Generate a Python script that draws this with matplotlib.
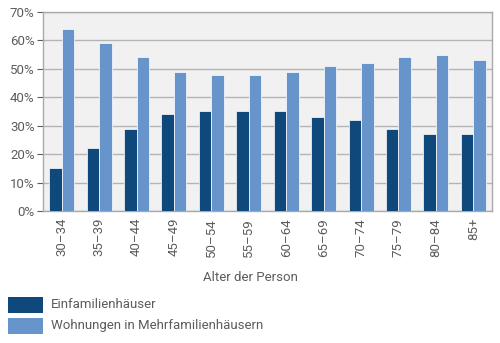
import matplotlib
matplotlib.use("Agg")
import matplotlib.pyplot as plt
import numpy as np
from matplotlib.patches import Rectangle

plt.rcParams['font.family'] = ['Roboto', 'DejaVu Sans']

categories = ["30–34", "35–39", "40–44", "45–49", "50–54", "55–59",
              "60–64", "65–69", "70–74", "75–79", "80–84", "85+"]
einfamilien = [15, 22, 29, 34, 35, 35, 35, 33, 32, 29, 27, 27]
wohnungen = [64, 59, 54, 49, 48, 48, 49, 51, 52, 54, 55, 53]
series_names = ["Einfamilienhäuser", "Wohnungen in Mehrfamilienhäusern"]
y_ticks = [0, 10, 20, 30, 40, 50, 60, 70]

dark = "#0f497c"
light = "#6694cb"
text_col = "#5c5c5c"

fig = plt.figure(figsize=(5.0, 3.43), dpi=100)
ax = fig.add_axes([0.086, 0.385, 0.898, 0.580])
ax.set_facecolor("#f1f1f1")

x = np.arange(len(categories))
w = 0.335
ax.bar(x - w / 2, einfamilien, w, color=dark, edgecolor="white", linewidth=0.5, zorder=3)
ax.bar(x + w / 2, wohnungen, w, color=light, edgecolor="white", linewidth=0.5, zorder=3)

ax.set_xlim(-0.5, len(categories) - 0.5)
ax.set_ylim(0, 70)
ax.set_yticks(y_ticks)
ax.set_yticklabels([f"{v}%" for v in y_ticks])
ax.yaxis.grid(True, color="#b4b4b4", linewidth=1.0, zorder=0)
ax.set_xticks(x)
ax.set_xticklabels(categories, rotation=90)
ax.tick_params(axis="y", colors=text_col, labelsize=9.5, length=4, width=0.8, pad=2)
ax.tick_params(axis="x", colors=text_col, labelsize=9.5, length=0, pad=5)
for tk in ax.yaxis.get_major_ticks():
    tk.tick1line.set_color("#aaaaaa")
for s in ax.spines.values():
    s.set_color("#aaaaaa")
    s.set_linewidth(1.0)

fig.text(0.5, 0.192, "Alter der Person", ha="center", va="center",
         fontsize=9.5, color=text_col)

# legend drawn as patches in figure coordinates
for i, (name, col) in enumerate(zip(series_names, [dark, light])):
    y0 = 1 - (313 + i * 21) / 343
    fig.patches.append(Rectangle((0.016, y0), 0.07, 16 / 343, transform=fig.transFigure,
                                 facecolor=col, edgecolor="none"))
    fig.text(0.102, y0 + 8 / 343, name, ha="left", va="center",
             fontsize=9.5, color=text_col)

fig.savefig("out.png", dpi=100)
